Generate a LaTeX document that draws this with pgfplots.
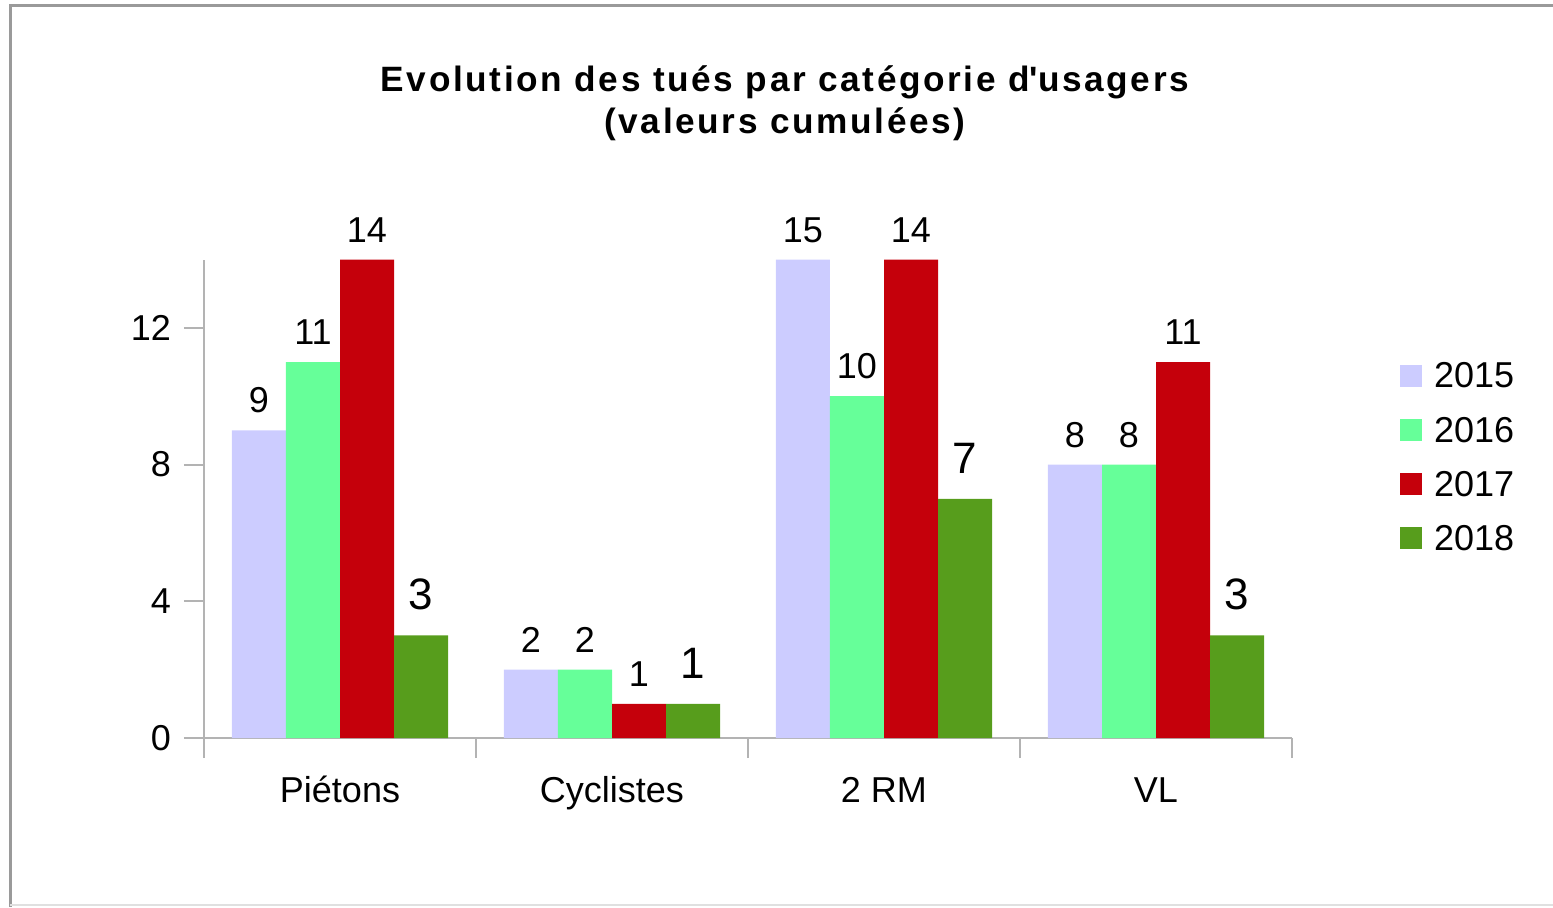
\documentclass[border=0pt]{standalone}
\usepackage{fontspec}
\setmainfont{Liberation Sans}
\usepackage{pgfplots}
\pgfplotsset{compat=1.18}
\usepackage{pgfplotstable}
\definecolor{c15}{HTML}{CCCCFF}
\definecolor{c16}{HTML}{66FF99}
\definecolor{c17}{HTML}{C5000B}
\definecolor{c18}{HTML}{579D1C}
\definecolor{axisgray}{HTML}{B3B3B3}
\definecolor{framegray}{HTML}{9A9A9A}
\pgfplotstableread{
x v2015 v2016 v2017 v2018
0 9 11 14 3
1 2 2 1 1
2 15 10 14 7
3 8 8 11 3
}\data
\pgfplotsset{sq/.style={legend image code/.code={\fill[##1,draw=none] (0pt,-5pt) rectangle (11pt,6pt);}}}
\begin{document}
\begin{tikzpicture}
\useasboundingbox (0pt,0pt) rectangle (776.5pt,453.5pt);
\draw[framegray, line width=1.5pt] (5pt,0pt) -- (5pt,450.5pt) -- (776.5pt,450.5pt);
\draw[black!12, line width=0.7pt] (5pt,1pt) -- (776.5pt,1pt);
\node[font=\bfseries\fontsize{17.6}{21}\selectfont\addfontfeature{LetterSpace=7.5}, align=center] at (392.5pt,402pt) {Evolution des tués par catégorie d\textquotesingle usagers\\(valeurs cumulées)};
\begin{axis}[
  at={(102pt,84.5pt)}, anchor=south west,
  scale only axis, width=544pt, height=239.25pt,
  xmin=-0.5, xmax=3.5, ymin=0, ymax=14,
  enlargelimits=false,
  axis x line*=bottom, axis y line*=left,
  axis line style={axisgray, line width=1pt},
  ybar=0pt, bar width=27pt,
  xtick={0,1,2,3}, xticklabels={Piétons,Cyclistes,2 RM,VL},
  minor xtick={-0.5,0.5,1.5,2.5,3.5},
  ytick={0,4,8,12},
  tick align=outside, major tick length=10pt, minor tick length=10pt,
  tick style={axisgray, line width=1pt},
  major x tick style={draw=none},
  tick label style={font=\fontsize{18}{20}\selectfont, color=black},
  xticklabel style={text height=13pt, text depth=4pt, yshift=-5.5pt},
  yticklabel style={xshift=-3pt},
  /pgf/number format/assume math mode=true,
  point meta=explicit,
  nodes near coords,
  every node near coord/.append style={font=\fontsize{18}{20}\selectfont, color=black, yshift=5pt},
  y filter/.expression={min(y,14)},
  legend style={at={(1.099,0.585)}, anchor=west, draw=none, fill=none, inner sep=0pt,
    font=\fontsize{18}{20}\selectfont, row sep=9pt, legend cell align=left,
    /tikz/every odd column/.append style={column sep=4pt}},
]
\addplot[fill=c15, draw=none, sq] table[x=x, y=v2015, meta=v2015]{\data};
\addplot[fill=c16, draw=none, sq] table[x=x, y=v2016, meta=v2016]{\data};
\addplot[fill=c17, draw=none, sq] table[x=x, y=v2017, meta=v2017]{\data};
\addplot[fill=c18, draw=none, sq, every node near coord/.append style={font=\fontsize{22}{24}\selectfont, yshift=4pt}] table[x=x, y=v2018, meta=v2018]{\data};
\legend{2015,2016,2017,2018}
\end{axis}
\end{tikzpicture}
\end{document}
